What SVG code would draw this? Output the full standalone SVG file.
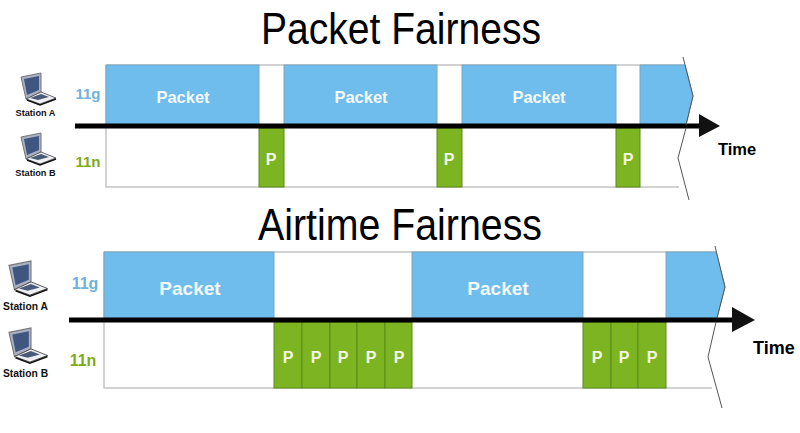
<svg xmlns="http://www.w3.org/2000/svg" width="800" height="433" viewBox="0 0 800 433">
<defs>
<style>
text{font-family:"Liberation Sans",Arial,sans-serif}
.title{font-size:44px;fill:#000}
.frame{fill:#fff;stroke:#c4c4c4;stroke-width:1.5}
.blue{fill:#6fbdec;stroke:#7aa6c0;stroke-width:1}
.green{fill:#7cb521;stroke:#5a8a1a;stroke-width:1}
.pk{font-weight:bold;fill:#f4f9fd;text-anchor:middle}
.p{font-weight:bold;fill:#f4f8e6;text-anchor:middle;font-size:16px}
.g{font-weight:bold;fill:#6fb2dc;text-anchor:middle;font-size:15px}
.n{font-weight:bold;fill:#7cab1c;text-anchor:middle;font-size:15px}
.st{font-weight:bold;fill:#111;text-anchor:middle;font-size:9.200px}
.st2{font-weight:bold;fill:#111;text-anchor:middle;font-size:10.300px}
.time{font-weight:bold;fill:#000;font-size:16.500px}
.axis{stroke:#000;stroke-width:5;fill:none}
.cut{stroke:#555;stroke-width:1;fill:none}
</style>
<g id="laptop">
<path d="M0 4L20 0L20 19L5 26Z" fill="#a9b0c2" stroke="#777" stroke-width="1"/>
<path d="M3 6L18 3L18 17L6 22Z" fill="#3f5680"/>
<path d="M5 26L20 19L35 25L19 31Z" fill="#eef0f4" stroke="#444" stroke-width="0.800"/>
<path d="M9 25L20 21L28 24L17 27Z" fill="#4a5a78"/>
<path d="M6 27L19 32L35 26" stroke="#111" stroke-width="1.500" fill="none"/>
</g>
</defs>
<rect width="800" height="433" fill="#fff"/>
<text class="title" x="261" y="44" textLength="280" lengthAdjust="spacingAndGlyphs">Packet Fairness</text>
<text class="title" x="258" y="240" textLength="284" lengthAdjust="spacingAndGlyphs">Airtime Fairness</text>

<g id="chart-packet">
<path class="frame" d="M106 65H685M106 65V187H679"/>
<g id="packet-a1"><rect class="blue" x="106" y="65" width="153" height="60"/><text class="pk" x="183" y="103" font-size="16.500">Packet</text></g>
<g id="packet-a2"><rect class="blue" x="284" y="65" width="153" height="60"/><text class="pk" x="361" y="103" font-size="16.500">Packet</text></g>
<g id="packet-a3"><rect class="blue" x="462" y="65" width="154" height="60"/><text class="pk" x="539" y="103" font-size="16.500">Packet</text></g>
<g id="packet-a4"><path class="blue" d="M640 65H685L693 96L686 125H640Z"/></g>
<g id="p-a1"><rect class="green" x="259" y="128" width="25" height="59"/><text class="p" x="271" y="165">P</text></g>
<g id="p-a2"><rect class="green" x="437" y="128" width="25" height="59"/><text class="p" x="449" y="165">P</text></g>
<g id="p-a3"><rect class="green" x="616" y="128" width="24" height="59"/><text class="p" x="628" y="165">P</text></g>
<text class="g" x="88" y="99">11g</text>
<text class="n" x="88" y="167">11n</text>
<g id="station-a1"><use href="#laptop" transform="translate(21 73)"/><text class="st" x="35.500" y="116">Station A</text></g>
<g id="station-b1"><use href="#laptop" transform="translate(21 133)"/><text class="st" x="35.500" y="176">Station B</text></g>
<text class="time" x="718" y="155">Time</text>
</g>

<g id="chart-airtime">
<path class="frame" d="M104 252H716M104 252V388H712"/>
<g id="packet-b1"><rect class="blue" x="104" y="252" width="170" height="66"/><text class="pk" x="190" y="295" font-size="19">Packet</text></g>
<g id="packet-b2"><rect class="blue" x="412" y="252" width="171" height="66"/><text class="pk" x="498" y="295" font-size="19">Packet</text></g>
<g id="packet-b3"><path class="blue" d="M666 252H716L725 287L717 318H666Z"/></g>
<g id="p-b1"><rect class="green" x="274" y="322" width="28" height="66"/><text class="p" x="288" y="363">P</text></g>
<g id="p-b2"><rect class="green" x="302" y="322" width="28" height="66"/><text class="p" x="316" y="363">P</text></g>
<g id="p-b3"><rect class="green" x="330" y="322" width="27" height="66"/><text class="p" x="343" y="363">P</text></g>
<g id="p-b4"><rect class="green" x="357" y="322" width="28" height="66"/><text class="p" x="371" y="363">P</text></g>
<g id="p-b5"><rect class="green" x="385" y="322" width="27" height="66"/><text class="p" x="399" y="363">P</text></g>
<g id="p-b6"><rect class="green" x="583" y="322" width="28" height="66"/><text class="p" x="597" y="363">P</text></g>
<g id="p-b7"><rect class="green" x="611" y="322" width="27" height="66"/><text class="p" x="624" y="363">P</text></g>
<g id="p-b8"><rect class="green" x="638" y="322" width="28" height="66"/><text class="p" x="652" y="363">P</text></g>
<text class="g" x="85" y="289" style="font-size:16px">11g</text>
<text class="n" x="83" y="366" style="font-size:16px">11n</text>
<g id="station-a2"><use href="#laptop" transform="translate(9 261) scale(1.100)"/><text class="st2" x="25.500" y="310">Station A</text></g>
<g id="station-b2"><use href="#laptop" transform="translate(9 328) scale(1.100)"/><text class="st2" x="25.500" y="377">Station B</text></g>
<text class="time" x="753" y="354" style="font-size:18px">Time</text>
</g>

<g id="connectors">
<path class="axis" d="M75 126H702"/>
<path d="M699 114L720 126L699 137Z" fill="#111"/>
<path class="cut" d="M683 57L693 96L686 125M686 128L678 158L689 200"/>
<path class="axis" d="M69 320H735"/>
<path d="M732 307L755 320L732 332Z" fill="#111"/>
<path class="cut" d="M715 246L725 287L717 318M716 322L708 357L722 408"/>
</g>
</svg>
